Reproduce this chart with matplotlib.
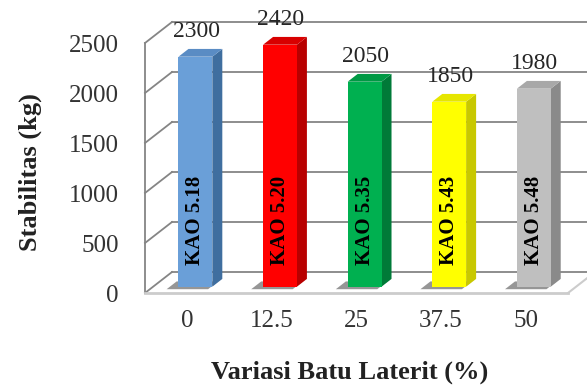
import matplotlib
matplotlib.use("Agg")
import matplotlib.pyplot as plt
from matplotlib.patches import Polygon

# Data
categories = ["0", "12.5", "25", "37.5", "50"]
stabilitas = [2300, 2420, 2050, 1850, 1980]
kao_labels = ["KAO 5.18", "KAO 5.20", "KAO 5.35", "KAO 5.43", "KAO 5.48"]
y_ticks = [0, 500, 1000, 1500, 2000, 2500]

front_colors = ["#6A9FD8", "#FF0000", "#00B050", "#FFFF00", "#BFBFBF"]
side_colors = ["#3F6E9F", "#B80000", "#007A38", "#C8C800", "#8A8A8A"]
top_colors = ["#5A8CC4", "#D80000", "#009944", "#E6E600", "#A8A8A8"]

serif = "Liberation Serif"
plt.rcParams["font.family"] = serif

W, H = 587, 388
fig = plt.figure(figsize=(W / 100, H / 100), dpi=100)
fig.patch.set_facecolor("white")

# axes spans the front plane of the 3-D box
left_px, right_px, bottom_px, top_px = 145, 568, 293, 43
ax = fig.add_axes([left_px / W, (H - bottom_px) / H,
                   (right_px - left_px) / W, (bottom_px - top_px) / H])
x0, x1 = -0.5, 4.5
ax.set_xlim(x0, x1)
ax.set_ylim(0, 2500)
for s in ax.spines.values():
    s.set_visible(False)
ax.set_facecolor("none")

# depth of the box (in data units)
px_x = (x1 - x0) / (right_px - left_px)
px_y = 2500 / (bottom_px - top_px)
DX = 27 * px_x
DY = 21 * px_y

grid_c = "#858585"
# back wall gridlines, left wall diagonals and left front edge
for v in y_ticks:
    ax.plot([x0, x0 + DX], [v, v + DY], color=grid_c, lw=1.3, clip_on=False, zorder=1)
    ax.plot([x0 + DX, x1 + DX + 1], [v + DY, v + DY], color=grid_c, lw=1.3,
            clip_on=False, zorder=1)
ax.plot([x0, x0], [0, 2500], color=grid_c, lw=1.3, clip_on=False, zorder=1)
# floor edges
ax.plot([x0, x1], [0, 0], color="#CCCCCC", lw=2.0, clip_on=False, zorder=1)
ax.plot([x1, x1 + DX], [0, DY], color="#CCCCCC", lw=1.5, clip_on=False, zorder=1)

# bars
f0 = 0.30     # front face depth position
fd = 0.37     # bar depth
bw = 0.40
xs = list(range(len(categories)))
bx = [x + f0 * DX for x in xs]
base = f0 * DY
ddx, ddy = fd * DX, fd * DY

bars = ax.bar(bx, stabilitas, width=bw, bottom=base, color=front_colors,
              zorder=4, clip_on=False)

for i, (xc, v) in enumerate(zip(bx, stabilitas)):
    xl, xr = xc - bw / 2, xc + bw / 2
    # floor shadow
    sh = Polygon([(xl - 0.14, base - 25), (xr - 0.05, base - 25),
                  (xr + ddx - 0.05, base + ddy - 25), (xl + ddx - 0.14, base + ddy - 25)],
                 closed=True, facecolor="#404040", alpha=0.55, edgecolor="none",
                 zorder=2, clip_on=False)
    ax.add_patch(sh)
    side = Polygon([(xr, base), (xr + ddx, base + ddy), (xr + ddx, base + v + ddy),
                    (xr, base + v)], closed=True, facecolor=side_colors[i],
                   edgecolor="none", zorder=3, clip_on=False)
    ax.add_patch(side)
    top = Polygon([(xl, base + v), (xr, base + v), (xr + ddx, base + v + ddy),
                   (xl + ddx, base + v + ddy)], closed=True, facecolor=top_colors[i],
                  edgecolor="none", zorder=3, clip_on=False)
    ax.add_patch(top)
    # value label above the bar
    ax.text(xc + 0.01, base + v + 250, f"{v}", ha="center", va="center",
            fontsize=17, color="#262626", zorder=6, clip_on=False)
    # KAO label inside the bar
    ax.text(xc, base + 220, kao_labels[i], rotation=90, ha="center", va="bottom",
            fontsize=15, fontweight="bold", color="black", zorder=6)

# ticks
ax.set_yticks(y_ticks)
ax.set_yticklabels([str(t) for t in y_ticks], fontsize=18, color="#333333")
ax.set_xticks(xs)
ax.set_xticklabels(categories, fontsize=18, color="#333333")
ax.tick_params(axis="y", length=0, pad=19)
ax.tick_params(axis="x", length=0, pad=12)

# axis titles
ax.text((350 - left_px) / (right_px - left_px), (bottom_px - 372) / (bottom_px - top_px),
        "Variasi Batu Laterit (%)", transform=ax.transAxes, ha="center", va="center",
        fontsize=19, fontweight="bold", color="#222222")
ax.text((30 - left_px) / (right_px - left_px), (bottom_px - 172) / (bottom_px - top_px),
        "Stabilitas (kg)", transform=ax.transAxes, ha="center", va="center",
        rotation=90, fontsize=19, fontweight="bold", color="#222222")

fig.savefig("out.png", dpi=100, facecolor="white")
